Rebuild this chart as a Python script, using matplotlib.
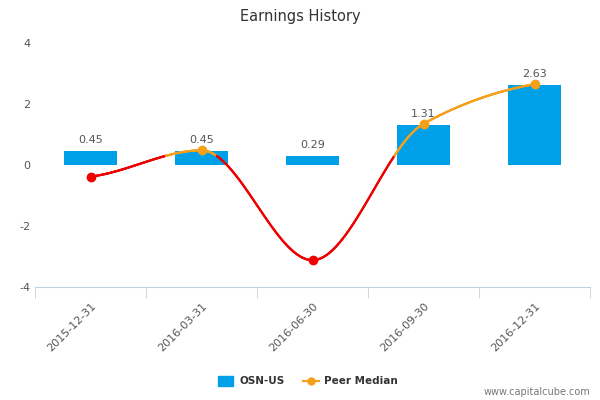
import numpy as np
import matplotlib
matplotlib.use("Agg")
import matplotlib.pyplot as plt
plt.rcParams["axes.unicode_minus"] = False

categories = ["2015-12-31", "2016-03-31", "2016-06-30", "2016-09-30", "2016-12-31"]
osn = [0.45, 0.45, 0.29, 1.31, 2.63]
peer = [-0.38, 0.48, -3.12, 1.35, 2.65]

def pchip(x, y, xs):
    x = np.asarray(x, float); y = np.asarray(y, float)
    h = np.diff(x); d = np.diff(y) / h
    m = np.zeros_like(y)
    for i in range(1, len(y) - 1):
        if d[i-1] * d[i] <= 0:
            m[i] = 0
        else:
            m[i] = 2 / (1/d[i-1] + 1/d[i])
    m[0] = d[0] * 0.5; m[-1] = d[-1] * 0.5
    out = []
    for xv in xs:
        i = min(np.searchsorted(x, xv, side="right") - 1, len(x) - 2)
        t = (xv - x[i]) / h[i]
        h00 = 2*t**3 - 3*t**2 + 1; h10 = t**3 - 2*t**2 + t
        h01 = -2*t**3 + 3*t**2; h11 = t**3 - t**2
        out.append(h00*y[i] + h10*h[i]*m[i] + h01*y[i+1] + h11*h[i]*m[i+1])
    return np.array(out)

fig = plt.figure(figsize=(6, 4), dpi=100)
ax = fig.add_axes([35/600, 1 - 287/400, 555/600, 244/400])
x = np.arange(len(categories))
ax.bar(x, osn, width=0.47, color="#00a0e8", zorder=2)
for xi, v in zip(x, osn):
    ax.text(xi, v + 0.2, f"{v:.2f}", ha="center", va="bottom", fontsize=8, color="#555555")

xs = np.linspace(0, len(x) - 1, 800)
ys = pchip(x, peer, xs)
below = ys < 0.3
for i in range(len(xs) - 1):
    c = "#ee0000" if below[i] else "#f5a01a"
    ax.plot(xs[i:i+2], ys[i:i+2], color=c, lw=1.6, zorder=3, solid_capstyle="round")
for xi, v, o in zip(x, peer, osn):
    ax.plot(xi, v, "o", ms=6, color="#ee0000" if v < o else "#f5a01a", zorder=4)

ax.set_xlim(-0.5, len(x) - 0.5)
ax.set_ylim(-4, 4)
ax.set_yticks([-4, -2, 0, 2, 4])
ax.set_xticks(np.arange(-0.5, len(x)), minor=True)
ax.set_xticks(x)
ax.set_xticklabels(categories)
ax.tick_params(axis="x", which="major", length=0, pad=10)
ax.tick_params(axis="x", which="minor", length=8, color="#c0d0e0")
ax.tick_params(axis="y", length=0, labelsize=8, labelcolor="#555555")
for lab in ax.get_xticklabels():
    lab.set_rotation(45); lab.set_ha("right"); lab.set_rotation_mode("anchor")
    lab.set_fontsize(8); lab.set_color("#555555")
for s in ["top", "right", "left"]:
    ax.spines[s].set_visible(False)
ax.spines["bottom"].set_color("#c0d0e0")

fig.text(0.5, 1 - 16/400, "Earnings History", ha="center", va="center", fontsize=10.5, color="#333333")
from matplotlib.patches import Rectangle
from matplotlib.lines import Line2D
fig.patches.append(Rectangle((218/600, 1 - 386/400), 15/600, 10/400, color="#00a0e8", transform=fig.transFigure))
fig.text(240/600, 1 - 381/400, "OSN-US", fontsize=7.5, va="center", fontweight="bold", color="#333333")
fig.lines.append(Line2D([303/600, 319/600], [1 - 381/400] * 2, color="#f5a01a", lw=1.6, transform=fig.transFigure))
fig.lines.append(Line2D([311/600], [1 - 381/400], marker="o", ms=5, color="#f5a01a", transform=fig.transFigure))
fig.text(324/600, 1 - 381/400, "Peer Median", fontsize=7.5, va="center", fontweight="bold", color="#333333")
fig.text(590/600, 1 - 392/400, "www.capitalcube.com", fontsize=7, ha="right", va="center", color="#777777")
fig.savefig("out.png")
